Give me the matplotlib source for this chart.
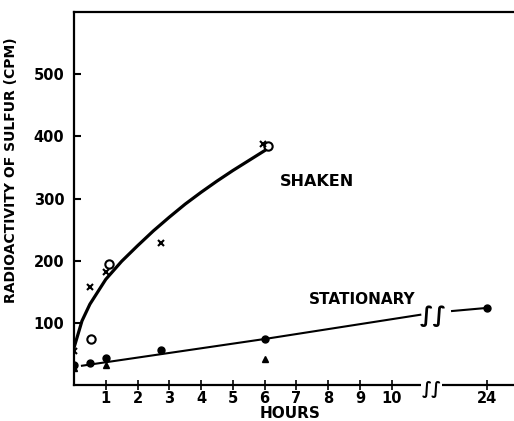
import numpy as np
import matplotlib
matplotlib.use("Agg")
import matplotlib.pyplot as plt

# --- data (hours, cpm) ---
shaken_x_hours = [0, 0.5, 1.0, 2.75, 5.95]
shaken_x_vals = [55, 158, 182, 229, 387]
shaken_o_hours = [0.55, 1.1, 6.1]
shaken_o_vals = [74, 195, 385]

# hand-drawn trend curve for the shaken samples
shaken_curve_hours = [0, 0.25, 0.5, 1.0, 1.5, 2.0, 2.5, 3.0, 3.5, 4.0, 4.5, 5.0, 5.5, 6.0]
shaken_curve_vals = [60, 103, 130, 170, 199, 224, 248, 270, 291, 310, 328, 345, 361, 377]

stat_dot_hours = [0, 0.5, 1.0, 2.75, 6, 24]
stat_dot_vals = [32, 35, 43, 56, 74, 124]
stat_tri_hours = [0, 1.0, 6]
stat_tri_vals = [27, 32, 42]

stat_line_hours = [0.25, 6, 10.9]
stat_line_vals = [31, 74, 113]
stat_line2_hours = [22.9, 24]
stat_line2_vals = [119, 124]

xtick_hours = [1, 2, 3, 4, 5, 6, 7, 8, 9, 10, 24]
ytick_vals = [100, 200, 300, 400, 500]


def pos(h):
    # broken time axis: everything past the break is shifted left by 11 h
    h = np.asarray(h, dtype=float)
    return np.where(h <= 11, h, h - 11)


plt.rcParams['font.family'] = ['DejaVu Sans']
plt.rcParams['font.weight'] = 'bold'
plt.rcParams['axes.labelweight'] = 'bold'

fig = plt.figure(figsize=(5.14, 4.21), dpi=100)
ax = fig.add_axes([0.144, 0.0855, 0.856, 0.886])

ax.plot(pos(shaken_curve_hours), shaken_curve_vals, color='black', lw=2.3)
ax.plot(pos(stat_line_hours), stat_line_vals, color='black', lw=1.5)
ax.plot(pos(stat_line2_hours), stat_line2_vals, color='black', lw=1.5)

ax.plot(pos(shaken_x_hours), shaken_x_vals, 'x', color='black', ms=5, mew=1.5)
ax.plot(pos(shaken_o_hours), shaken_o_vals, 'o', mfc='none', mec='black', ms=6, mew=1.5)
ax.plot(pos(stat_dot_hours), stat_dot_vals, 'o', color='black', ms=5)
ax.plot(pos(stat_tri_hours), stat_tri_vals, '^', color='black', ms=5)

ax.set_xlim(0, 13.85)
ax.set_ylim(0, 600)

ax.set_xticks(pos(xtick_hours))
ax.set_xticklabels([str(h) for h in xtick_hours], fontsize=10.5)
ax.set_yticks(ytick_vals)
ax.set_yticklabels([str(v) for v in ytick_vals], fontsize=10.5)
ax.tick_params(axis='x', direction='inout', length=7, width=1.2, pad=1)
ax.tick_params(axis='y', direction='in', length=5, width=1.5, pad=7)

for s in ['left', 'bottom', 'top']:
    ax.spines[s].set_linewidth(1.6)
ax.spines['right'].set_visible(False)

# break marks
ax.text(11.3, 111, '∫∫', fontsize=16, ha='center', va='center')
ax.text(11.25, -6, '∫∫', fontsize=12, ha='center', va='center',
        bbox=dict(facecolor='white', edgecolor='none', pad=0), clip_on=False)

ax.text(6.48, 327, 'SHAKEN', fontsize=11.5, ha='left', va='center')
ax.text(7.4, 137, 'STATIONARY', fontsize=11, ha='left', va='center')

ax.set_xlabel('HOURS', fontsize=11)
ax.xaxis.set_label_coords(0.49, -0.055)
ax.set_ylabel('RADIOACTIVITY OF SULFUR (CPM)', fontsize=10)
ax.yaxis.set_label_coords(-0.127, 0.576)

fig.savefig('out.png', dpi=100)
